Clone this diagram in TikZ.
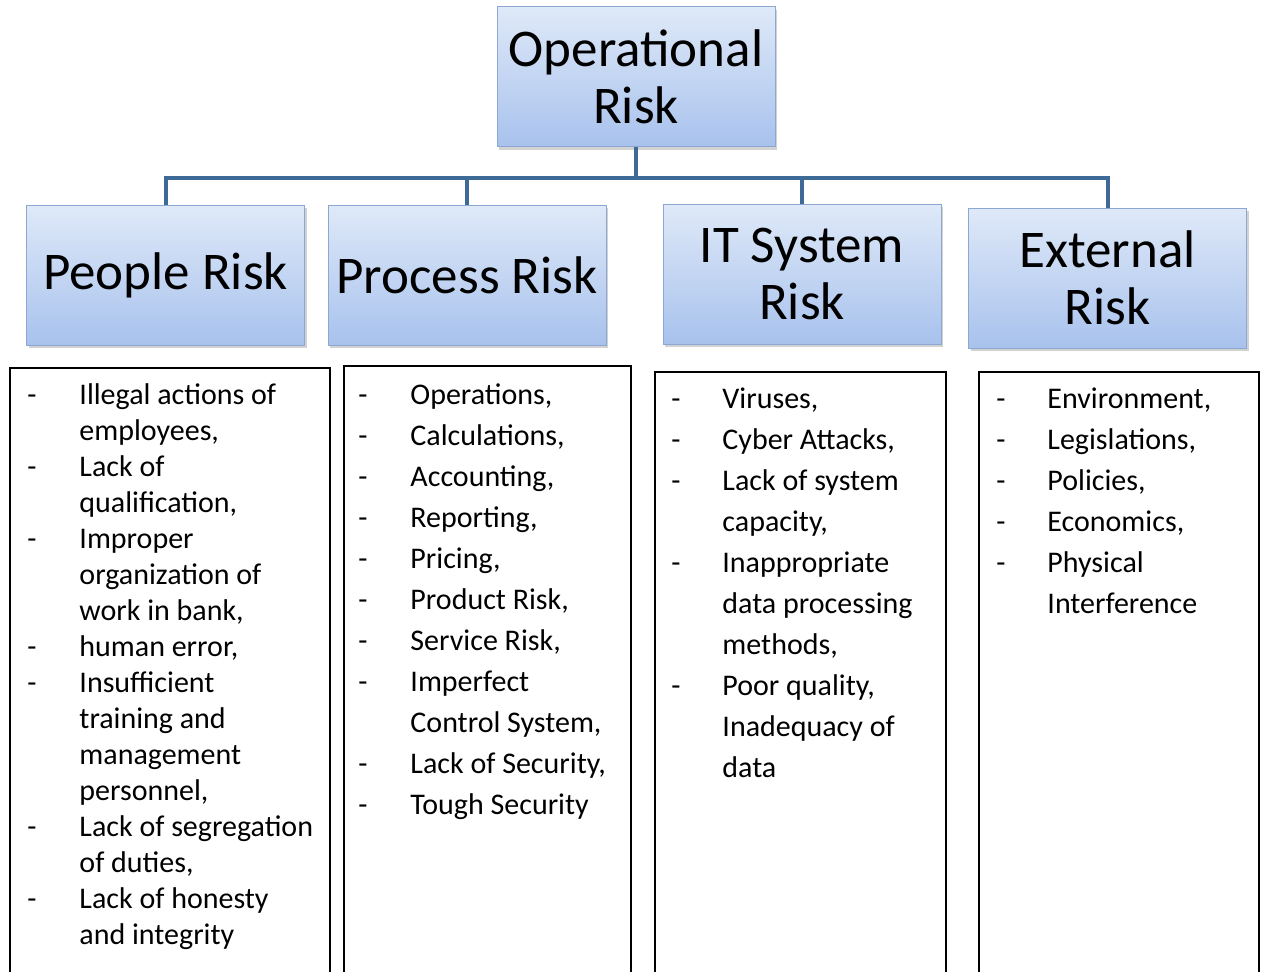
\documentclass[tikz,border=0pt]{standalone}
\usepackage{fontspec}
\setmainfont{Carlito}
\usepackage{array}
\usetikzlibrary{shadows,positioning}

\definecolor{boxtop}{HTML}{DFE9F8}
\definecolor{boxbottom}{HTML}{A8C2ED}
\definecolor{boxedge}{HTML}{8CA7D1}
\definecolor{linkblue}{HTML}{3E6A97}

\newcommand{\bigtext}{\fontsize{53}{57}\selectfont}

\begin{document}
\begin{tikzpicture}[x=1pt, y=-1pt,
  riskbox/.style={rectangle, draw=boxedge, line width=1pt, top color=boxtop, bottom color=boxbottom,
    minimum width=278pt, minimum height=140pt, inner sep=0pt, align=center, font=\bigtext,
    drop shadow={shadow xshift=2pt, shadow yshift=-3pt, opacity=0.35}},
  listbox/.style={rectangle, draw=black, line width=1.5pt, fill=white, minimum height=640pt, inner sep=0pt},
  items/.style={anchor=north west, inner sep=0pt},
  link/.style={draw=linkblue, line width=4pt}
]

\clip (0,0) rectangle (1270,972);
\fill[white] (0,0) rectangle (1270,972);

% Top of the tree
\node[riskbox] (oprisk) at (636,76.5) {Operational\\Risk};

% The four kinds of risk
\node[riskbox] (people) at (165.5,275) {People Risk};
\node[riskbox] (process) at (467,275) {Process Risk};
\node[riskbox] (itsystem) at (802,274) {IT System\\Risk};
\node[riskbox] (external) at (1107.5,278) {External\\Risk};

% Connectors
\coordinate (bus) at (636,178);
\draw[link] (oprisk.south) -- (bus) -| (people.north);
\draw[link] (oprisk.south) -- (bus) -| (process.north);
\draw[link] (oprisk.south) -- (bus) -| (itsystem.north);
\draw[link] (oprisk.south) -- (bus) -| (external.north);

% Lists under each kind
\node[listbox, minimum width=320pt] (peoplelist) at (170,688) {};
\node[listbox, minimum width=287pt] (processlist) at (487.5,686) {};
\node[listbox, minimum width=291pt] (itlist) at (800.5,692) {};
\node[listbox, minimum width=280pt] (externallist) at (1119,692) {};

\node[items] (peopleitems) at ([shift={(18,12)}]peoplelist.north west) {%
  \fontsize{30}{36}\selectfont
  \begin{tabular}{@{}p{52pt}@{}l@{}}
  - & Illegal actions of\\
    & employees,\\
  - & Lack of\\
    & qualification,\\
  - & Improper\\
    & organization of\\
    & work in bank,\\
  - & human error,\\
  - & Insufficient\\
    & training and\\
    & management\\
    & personnel,\\
  - & Lack of segregation\\
    & of duties,\\
  - & Lack of honesty\\
    & and integrity
  \end{tabular}};

\node[items] (processitems) at ([shift={(15,10)}]processlist.north west) {%
  \fontsize{30}{41}\selectfont
  \begin{tabular}{@{}p{52pt}@{}l@{}}
  - & Operations,\\
  - & Calculations,\\
  - & Accounting,\\
  - & Reporting,\\
  - & Pricing,\\
  - & Product Risk,\\
  - & Service Risk,\\
  - & Imperfect\\
    & Control System,\\
  - & Lack of Security,\\
  - & Tough Security
  \end{tabular}};

\node[items] (ititems) at ([shift={(17,8)}]itlist.north west) {%
  \fontsize{30}{41}\selectfont
  \begin{tabular}{@{}p{51pt}@{}l@{}}
  - & Viruses,\\
  - & Cyber Attacks,\\
  - & Lack of system\\
    & capacity,\\
  - & Inappropriate\\
    & data processing\\
    & methods,\\
  - & Poor quality,\\
    & Inadequacy of\\
    & data
  \end{tabular}};

\node[items] (externalitems) at ([shift={(18,8)}]externallist.north west) {%
  \fontsize{30}{41}\selectfont
  \begin{tabular}{@{}p{51pt}@{}l@{}}
  - & Environment,\\
  - & Legislations,\\
  - & Policies,\\
  - & Economics,\\
  - & Physical\\
    & Interference
  \end{tabular}};

\end{tikzpicture}
\end{document}
